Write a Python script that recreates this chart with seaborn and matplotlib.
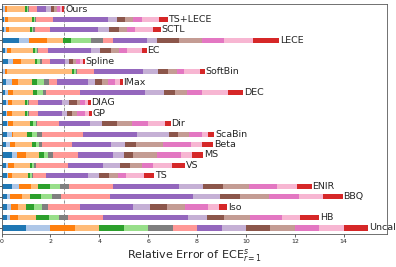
import numpy as np
import matplotlib
matplotlib.use("Agg")
import matplotlib.pyplot as plt
import seaborn as sns

methods = ["Ours", "TS+LECE", "SCTL", "LECE", "EC", "Spline", "SoftBin", "IMax", "DEC",
           "DIAG", "GP", "Dir", "ScaBin", "Beta", "MS", "VS", "TS", "ENIR", "BBQ", "Iso",
           "HB", "Uncal"]

# relative error per component, same order as the segments (left to right)
ours    = [0.06, 0.07, 0.11, 0.72, 0.07, 0.05, 0.06, 0.33, 0.34, 0.20, 0.12, 0.13, 0.13, 0.10, 0.08]
ts_lece = [0.10, 0.04, 0.14, 0.95, 0.08, 0.06, 0.04, 0.71, 2.25, 0.37, 0.31, 0.32, 0.38, 0.70, 0.35]
sctl    = [0.10, 0.08, 0.14, 0.85, 0.08, 0.05, 0.06, 0.62, 1.98, 0.44, 0.41, 0.34, 0.31, 0.75, 0.31]
lece    = [0.72, 0.42, 0.71, 0.65, 0.34, 0.82, 0.50, 0.41, 1.37, 0.43, 0.89, 0.93, 0.91, 1.17, 1.09]
ec      = [0.14, 0.07, 0.18, 0.91, 0.07, 0.07, 0.04, 0.41, 1.77, 0.37, 0.45, 0.33, 0.31, 0.61, 0.21]
spline  = [0.28, 0.18, 0.32, 0.59, 0.10, 0.11, 0.06, 0.34, 0.62, 0.16, 0.15, 0.14, 0.16, 0.14, 0.07]
softbin = [0.07, 0.06, 0.08, 2.66, 0.10, 0.08, 0.02, 0.71, 2.02, 0.61, 0.39, 0.37, 0.31, 0.64, 0.20]
imax    = [0.18, 0.24, 0.27, 0.54, 0.24, 0.27, 0.22, 0.30, 1.29, 0.27, 0.28, 0.27, 0.27, 0.21, 0.11]
dec     = [0.14, 0.14, 0.20, 0.82, 0.14, 0.24, 0.14, 1.39, 2.67, 0.75, 0.47, 0.47, 0.65, 1.04, 0.63]
diag    = [0.17, 0.08, 0.17, 0.55, 0.07, 0.06, 0.04, 0.37, 0.95, 0.29, 0.34, 0.12, 0.19, 0.14, 0.11]
gp      = [0.17, 0.07, 0.18, 0.54, 0.07, 0.04, 0.05, 0.36, 0.98, 0.21, 0.20, 0.23, 0.32, 0.17, 0.10]
dirc    = [0.21, 0.07, 0.20, 0.69, 0.13, 0.10, 0.07, 0.88, 1.27, 0.48, 0.61, 0.61, 0.68, 0.69, 0.23]
scabin  = [0.21, 0.21, 0.04, 0.60, 0.20, 0.18, 0.20, 1.71, 2.18, 1.32, 0.36, 0.46, 0.55, 0.24, 0.25]
beta    = [0.18, 0.17, 0.20, 0.71, 0.15, 0.14, 0.09, 1.23, 1.61, 0.57, 0.44, 1.10, 1.16, 0.47, 0.44]
ms      = [0.42, 0.20, 0.38, 0.55, 0.19, 0.18, 0.20, 1.02, 1.44, 0.43, 0.38, 0.96, 0.99, 0.44, 0.47]
vs      = [0.18, 0.10, 0.23, 0.66, 0.09, 0.08, 0.07, 1.32, 1.41, 0.71, 0.41, 0.47, 0.48, 0.78, 0.52]
ts      = [0.21, 0.04, 0.17, 0.65, 0.10, 0.06, 0.07, 0.51, 1.74, 0.44, 0.42, 0.34, 0.33, 0.76, 0.41]
enir    = [0.42, 0.30, 0.47, 0.32, 0.47, 0.41, 0.38, 1.80, 2.69, 0.98, 0.84, 1.05, 1.13, 0.81, 0.62]
bbq     = [0.21, 0.14, 0.47, 0.35, 0.45, 0.46, 0.35, 2.01, 3.39, 1.11, 0.81, 1.20, 1.23, 0.96, 0.81]
iso     = [0.21, 0.16, 0.32, 0.31, 0.34, 0.30, 0.25, 1.32, 2.16, 0.70, 0.69, 0.75, 0.92, 0.48, 0.33]
hb      = [0.24, 0.11, 0.34, 0.72, 0.53, 0.43, 0.36, 1.43, 3.48, 0.75, 0.70, 1.07, 1.30, 0.76, 0.78]
uncal   = [1.00, 1.00, 1.00, 1.00, 1.00, 1.00, 1.00, 1.00, 1.00, 1.00, 1.00, 1.00, 1.00, 1.00, 1.00]

rows = [ours, ts_lece, sctl, lece, ec, spline, softbin, imax, dec, diag, gp, dirc,
        scabin, beta, ms, vs, ts, enir, bbq, iso, hb, uncal]

x_ticks = [0, 2, 4, 6, 8, 10, 12, 14]

sns.set_style("ticks")
plt.rcParams["font.family"] = ["DejaVu Sans"]

pal = sns.color_palette("tab20")
seg_colors = [pal[i] for i in [0, 1, 2, 3, 4, 5, 14, 7, 8, 9, 10, 11, 12, 13, 6]]

cum = np.cumsum(np.array(rows), axis=1)

fig = plt.figure(figsize=(3.96, 2.67), dpi=100)
ax = fig.add_axes([1.5 / 396, 1 - 234 / 267, (387 - 1.5) / 396, (234 - 3.5) / 267])

ax.axvline(cum[0, -1], color="gray", ls="--", lw=0.6, zorder=0)

# stacked bars: draw the longest cumulative first, shorter ones on top
for k in range(len(seg_colors) - 1, -1, -1):
    sns.barplot(x=cum[:, k], y=methods, orient="h", color=seg_colors[k],
                saturation=1, width=0.5, errorbar=None, linewidth=0, ax=ax)

for i, m in enumerate(methods):
    ax.text(cum[i, -1] + 0.03, i, m, va="center", ha="left", fontsize=6.8)

ax.set_xlim(0, 15.77)
ax.set_ylim(21.58, -0.53)
ax.set_xticks(x_ticks)
ax.set_xticklabels([str(t) for t in x_ticks])
ax.set_yticklabels([])
ax.set_ylabel("")
ax.tick_params(axis="x", labelsize=4.5, length=2, width=0.5, pad=1.5)
ax.tick_params(axis="y", length=2, width=0.5)
ax.set_xlabel(r"Relative Error of ECE$^{s}_{r=1}$", fontsize=8, labelpad=2)
for sp in ax.spines.values():
    sp.set_linewidth(0.6)
    sp.set_color("0.35")

fig.savefig("out.png", dpi=100)
